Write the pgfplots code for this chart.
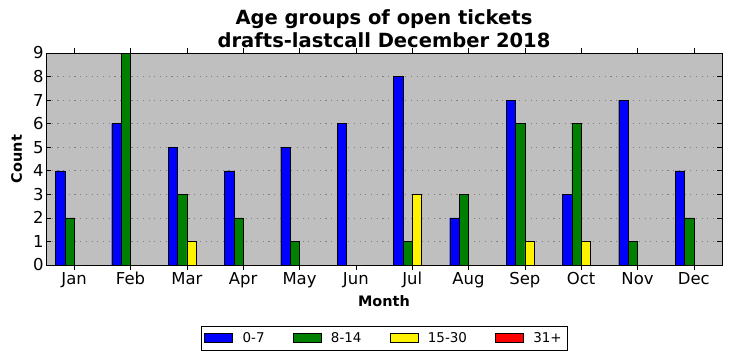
\documentclass[border=0pt]{standalone}
\usepackage{fontspec}
\setmainfont{DejaVu Sans}
\usepackage{pgfplots}
\pgfplotsset{compat=1.18}
\definecolor{axbg}{RGB}{191,191,191}
\begin{document}
\begin{tikzpicture}
\useasboundingbox (-46bp,-96bp) rectangle (686bp,265bp);
\begin{axis}[
  at={(0,0)}, anchor=south west,
  scale only axis, width=676bp, height=212bp,
  xmin=-0.5, xmax=11.5, ymin=0, ymax=9,
  axis background/.style={fill=axbg},
  xtick={0,...,11},
  xticklabels={Jan,Feb,Mar,Apr,May,Jun,Jul,Aug,Sep,Oct,Nov,Dec},
  ytick={0,...,9},
  tick align=inside,
  major tick length=5bp,
  tick style={black, line width=0.6pt},
  ymajorgrids,
  grid style={dash pattern=on 1.2bp off 4.5bp, black!50, line width=0.6pt},
  /pgf/number format/assume math mode=true,
  ticklabel style={font=\fontsize{16.5}{16.5}\selectfont},
  yticklabel style={xshift=1bp},
  xticklabel style={text height=12.5bp, text depth=3.5bp, anchor=north, yshift=2bp},
  xlabel={\textbf{Month}}, ylabel={\textbf{Count}},
  label style={font=\fontsize{14.5}{14.5}\selectfont},
  xlabel style={yshift=-1bp},
  ylabel style={yshift=4bp},
  title={\textbf{Age groups of open tickets}\\\textbf{drafts-lastcall December 2018}},
  title style={font=\fontsize{19.6}{22.5}\selectfont, align=center, yshift=-4bp},
  ybar, bar width=0.1667,
  legend columns=4,
  legend style={at={(0.5,-0.288)}, anchor=north, draw=black, font=\fontsize{13.5}{13.5}\selectfont,
    /tikz/every even column/.append style={column sep=26bp}, inner xsep=3bp, inner ysep=4bp},
  legend image code/.code={\draw[#1] (0bp,-4.5bp) rectangle (28bp,4.5bp);},
  legend cell align=left,
  axis line style={black, line width=0.8pt},
]
\addplot[fill=blue, draw=black, bar shift=-0.25] coordinates {(0,4)(1,6)(2,5)(3,4)(4,5)(5,6)(6,8)(7,2)(8,7)(9,3)(10,7)(11,4)};
\addplot[fill={rgb,255:red,0;green,128;blue,0}, draw=black, bar shift=-0.0833] coordinates {(0,2)(1,9)(2,3)(3,2)(4,1)(5,0)(6,1)(7,3)(8,6)(9,6)(10,1)(11,2)};
\addplot[fill=yellow, draw=black, bar shift=0.0833] coordinates {(0,0)(1,0)(2,1)(3,0)(4,0)(5,0)(6,3)(7,0)(8,1)(9,1)(10,0)(11,0)};
\addplot[fill=red, draw=black, bar shift=0.25] coordinates {(0,0)(1,0)(2,0)(3,0)(4,0)(5,0)(6,0)(7,0)(8,0)(9,0)(10,0)(11,0)};
\legend{\hspace{8bp}0-7,\hspace{8bp}8-14,\hspace{8bp}15-30,\hspace{8bp}31+}
\end{axis}
\end{tikzpicture}
\end{document}
